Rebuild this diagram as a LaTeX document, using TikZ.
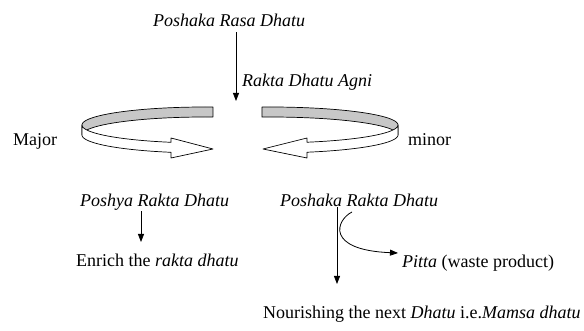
\documentclass[tikz,border=0pt]{standalone}
\usepackage{fontspec}
\setmainfont{Liberation Serif}
\usetikzlibrary{arrows.meta}
\begin{document}
\begin{tikzpicture}[x=1pt,y=-1pt,
  lbl/.style={anchor=base west,inner sep=0pt,font=\fontsize{18}{21}\selectfont},
  arr/.style={line width=0.8pt,-{Triangle[length=8pt,width=6pt]}},
  band/.style={line width=0.7pt,line join=round}]
\useasboundingbox (0,0) rectangle (584,331);
% labels
\node[lbl] (rasa) at (153,27) {\itshape Poshaka Rasa Dhatu};
\node[lbl] (agni) at (242,87) {\itshape Rakta Dhatu Agni};
\node[lbl] (major) at (13,146) {Major};
\node[lbl] (minor) at (408,146) {minor};
\node[lbl] (poshya) at (80,207) {\itshape Poshya Rakta Dhatu};
\node[lbl] (poshaka) at (280,207) {\itshape Poshaka Rakta Dhatu};
\node[lbl] (enrich) at (76,267) {Enrich the \textit{rakta dhatu}};
\node[lbl] (pitta) at (402,268) {\textit{Pitta} (waste product)};
\node[lbl] (nourish) at (263,318) {Nourishing the next \textit{Dhatu} i.e.\textit{Mamsa dhatu}};
% left ribbon (major)
\draw[band,fill=black!22] plot[domain=273.7:180,samples=40,smooth] ({205+123*cos(\x)},{125+18*sin(\x)})
  -- plot[domain=180:273.7,samples=40,smooth] ({205+123*cos(\x)},{135+18*sin(\x)}) -- cycle;
\draw[band,fill=white] plot[domain=180:106,samples=40,smooth] ({205+123*cos(\x)},{125+18*sin(\x)})
  -- (171,138) -- (213,149) -- (171,158)
  -- plot[domain=106:180,samples=40,smooth] ({205+123*cos(\x)},{135+18*sin(\x)}) -- cycle;
% right ribbon (minor)
\draw[band,fill=black!22] plot[domain=266.4:360,samples=40,smooth] ({270+128*cos(\x)},{125+18*sin(\x)})
  -- plot[domain=360:266.4,samples=40,smooth] ({270+128*cos(\x)},{135+18*sin(\x)}) -- cycle;
\draw[band,fill=white] plot[domain=0:73.2,samples=40,smooth] ({270+128*cos(\x)},{125+18*sin(\x)})
  -- (307,138) -- (263,149) -- (307,158)
  -- plot[domain=73.2:0,samples=40,smooth] ({270+128*cos(\x)},{135+18*sin(\x)}) -- cycle;
% arrows
\coordinate (topend) at (236,101);
\coordinate (poshyaend) at (141,242);
\coordinate (nourend) at (337,284);
\coordinate (pittastart) at (352,212);
\coordinate (pittaend) at (398,253);
\draw[arr] ([yshift=-5pt]rasa.south -| topend) -- (topend);
\draw[arr] (poshya.south -| poshyaend) -- (poshyaend);
\draw[arr] (poshaka.south -| nourend) -- (nourend);
\draw[arr] (pittastart) .. controls (336,220) and (325,250) .. (pittaend);
\end{tikzpicture}
\end{document}
